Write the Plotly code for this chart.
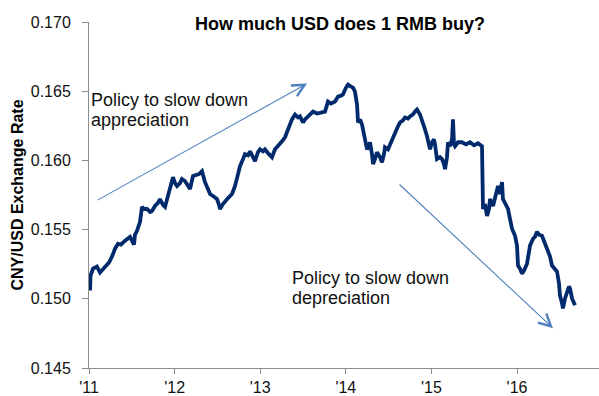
import plotly.graph_objects as go

# CNY/USD exchange rate (USD per 1 RMB), sampled along 2011 - Aug 2016, x in decimal years
years = [
    2011.012, 2011.018, 2011.047, 2011.093, 2011.129, 2011.152, 2011.187, 2011.210, 2011.234, 2011.269,
    2011.304, 2011.339, 2011.374, 2011.421, 2011.456, 2011.479, 2011.502, 2011.526, 2011.537, 2011.561,
    2011.596, 2011.619, 2011.643, 2011.678, 2011.713, 2011.736, 2011.771, 2011.806, 2011.829, 2011.864,
    2011.888, 2011.923, 2011.958, 2011.981, 2012.005, 2012.028, 2012.063, 2012.086, 2012.121, 2012.157,
    2012.180, 2012.215, 2012.250, 2012.285, 2012.320, 2012.355, 2012.390, 2012.414, 2012.449, 2012.495,
    2012.519, 2012.530, 2012.565, 2012.589, 2012.624, 2012.671, 2012.706, 2012.741, 2012.764, 2012.799,
    2012.822, 2012.857, 2012.881, 2012.916, 2012.939, 2012.974, 2012.998, 2013.033, 2013.056, 2013.091,
    2013.138, 2013.173, 2013.208, 2013.255, 2013.290, 2013.313, 2013.348, 2013.371, 2013.407, 2013.442,
    2013.465, 2013.500, 2013.523, 2013.547, 2013.582, 2013.617, 2013.664, 2013.699, 2013.734, 2013.757,
    2013.792, 2013.827, 2013.874, 2013.909, 2013.944, 2013.967, 2014.002, 2014.026, 2014.061, 2014.084,
    2014.107, 2014.131, 2014.143, 2014.166, 2014.189, 2014.213, 2014.224, 2014.248, 2014.271, 2014.283,
    2014.306, 2014.318, 2014.341, 2014.364, 2014.400, 2014.423, 2014.446, 2014.458, 2014.493, 2014.516,
    2014.551, 2014.575, 2014.610, 2014.633, 2014.668, 2014.692, 2014.727, 2014.750, 2014.785, 2014.808,
    2014.832, 2014.867, 2014.890, 2014.925, 2014.949, 2014.972, 2014.984, 2015.007, 2015.030, 2015.042,
    2015.065, 2015.100, 2015.124, 2015.147, 2015.159, 2015.182, 2015.194, 2015.217, 2015.241, 2015.252,
    2015.264, 2015.276, 2015.311, 2015.357, 2015.404, 2015.451, 2015.498, 2015.544, 2015.568, 2015.591,
    2015.603, 2015.626, 2015.650, 2015.673, 2015.685, 2015.708, 2015.720, 2015.755, 2015.778, 2015.801,
    2015.825, 2015.836, 2015.860, 2015.895, 2015.918, 2015.942, 2015.977, 2016.000, 2016.012, 2016.035,
    2016.058, 2016.082, 2016.117, 2016.152, 2016.187, 2016.210, 2016.234, 2016.257, 2016.292, 2016.327,
    2016.350, 2016.386, 2016.409, 2016.444, 2016.467, 2016.491, 2016.502, 2016.526, 2016.537, 2016.561,
    2016.584, 2016.607, 2016.619, 2016.643, 2016.678,
]
rate = [
    0.15060, 0.15168, 0.15218, 0.15233, 0.15190, 0.15204, 0.15233, 0.15240, 0.15262, 0.15305,
    0.15362, 0.15398, 0.15391, 0.15420, 0.15434, 0.15448, 0.15420, 0.15391, 0.15463, 0.15491,
    0.15556, 0.15664, 0.15649, 0.15649, 0.15628, 0.15635, 0.15671, 0.15693, 0.15721, 0.15678,
    0.15664, 0.15743, 0.15807, 0.15879, 0.15836, 0.15815, 0.15836, 0.15865, 0.15851, 0.15822,
    0.15793, 0.15887, 0.15894, 0.15901, 0.15922, 0.15843, 0.15793, 0.15757, 0.15743, 0.15721,
    0.15678, 0.15649, 0.15685, 0.15707, 0.15728, 0.15757, 0.15815, 0.15901, 0.15958, 0.16009,
    0.16045, 0.16037, 0.16066, 0.16023, 0.15994, 0.16059, 0.16080, 0.16066, 0.16080, 0.16052,
    0.16023, 0.16080, 0.16102, 0.16138, 0.16167, 0.16203, 0.16253, 0.16296, 0.16332, 0.16310,
    0.16318, 0.16274, 0.16296, 0.16310, 0.16332, 0.16353, 0.16339, 0.16346, 0.16346, 0.16353,
    0.16425, 0.16411, 0.16425, 0.16461, 0.16468, 0.16476, 0.16526, 0.16547, 0.16533, 0.16526,
    0.16497, 0.16404, 0.16274, 0.16296, 0.16260, 0.16188, 0.16138, 0.16080, 0.16109, 0.16131,
    0.16045, 0.15973, 0.16009, 0.16059, 0.16023, 0.15987, 0.16045, 0.16095, 0.16080, 0.16116,
    0.16167, 0.16210, 0.16246, 0.16274, 0.16289, 0.16310, 0.16303, 0.16318, 0.16332, 0.16353,
    0.16368, 0.16332, 0.16296, 0.16224, 0.16174, 0.16102, 0.16080, 0.16131, 0.16152, 0.16116,
    0.16009, 0.16023, 0.16009, 0.15973, 0.15937, 0.16023, 0.16131, 0.16102, 0.16152, 0.16296,
    0.16116, 0.16102, 0.16131, 0.16131, 0.16116, 0.16131, 0.16109, 0.16124, 0.16116, 0.16102,
    0.15649, 0.15685, 0.15599, 0.15649, 0.15721, 0.15685, 0.15671, 0.15757, 0.15815, 0.15757,
    0.15843, 0.15721, 0.15685, 0.15649, 0.15578, 0.15506, 0.15455, 0.15384, 0.15240, 0.15218,
    0.15182, 0.15204, 0.15254, 0.15384, 0.15434, 0.15448, 0.15484, 0.15463, 0.15455, 0.15398,
    0.15362, 0.15305, 0.15240, 0.15218, 0.15197, 0.15111, 0.15024, 0.14967, 0.14931, 0.15003,
    0.15053, 0.15089, 0.15075, 0.15003, 0.14953,
]

x_tick_vals = [2011, 2012, 2013, 2014, 2015, 2016]
x_tick_text = ["'11", "'12", "'13", "'14", "'15", "'16"]
y_tick_vals = [0.145, 0.150, 0.155, 0.160, 0.165, 0.170]

FONT = "Liberation Sans, Arial, sans-serif"
LINE_COLOR = "#002a6c"
ARROW_COLOR = "#4f81bd"
AXIS_COLOR = "#8c8c8c"

fig = go.Figure()
fig.add_trace(go.Scatter(
    x=years, y=rate, mode="lines",
    line=dict(color=LINE_COLOR, width=3.8),
    hoverinfo="skip", showlegend=False,
))

# trend arrows (tail -> head)
arrows = [
    dict(tail=(2011.082, 0.15707), head=(2013.547, 0.16555)),
    dict(tail=(2014.610, 0.15836), head=(2016.421, 0.14787)),
]
for a in arrows:
    fig.add_annotation(
        x=a["head"][0], y=a["head"][1], ax=a["tail"][0], ay=a["tail"][1],
        xref="x", yref="y", axref="x", ayref="y",
        text="", showarrow=True, arrowhead=5, arrowsize=2.2, arrowwidth=1.1,
        arrowcolor=ARROW_COLOR, standoff=0, startstandoff=0,
    )

# callout text, one annotation per line for tighter line spacing
notes = [
    dict(x=2011.000, y=0.16526, text="Policy to slow down"),
    dict(x=2011.000, y=0.16382, text="appreciation"),
    dict(x=2013.348, y=0.15240, text="Policy to slow down"),
    dict(x=2013.348, y=0.15096, text="depreciation"),
]
for n in notes:
    fig.add_annotation(
        x=n["x"], y=n["y"], xref="x", yref="y", text=n["text"],
        showarrow=False, xanchor="left", yanchor="top", align="left",
        font=dict(family=FONT, size=18, color="#111111"),
    )

fig.update_layout(
    width=599, height=396,
    margin=dict(l=89, r=0, t=22, b=26),
    paper_bgcolor="white", plot_bgcolor="white",
    title=dict(
        text="<b>How much USD does 1 RMB buy?</b>",
        x=340 / 599, xanchor="center",
        y=1 - 24 / 396, yanchor="middle",
        font=dict(family=FONT, size=18, color="#000000"),
    ),
    font=dict(family=FONT, size=16, color="#111111"),
)

fig.update_xaxes(
    range=[2011.0, 2016.958], tickvals=x_tick_vals, ticktext=x_tick_text,
    showgrid=False, zeroline=False, showline=True, linecolor=AXIS_COLOR, linewidth=1,
    ticks="outside", ticklen=5, tickcolor=AXIS_COLOR, tickwidth=1,
    tickfont=dict(family=FONT, size=16, color="#111111"),
)
fig.update_yaxes(
    range=[0.145, 0.170], tickvals=y_tick_vals, tickformat=".3f",
    showgrid=False, zeroline=False, showline=True, linecolor=AXIS_COLOR, linewidth=1,
    ticks="outside", ticklen=6, tickcolor=AXIS_COLOR, tickwidth=1,
    ticklabelstandoff=8,
    tickfont=dict(family=FONT, size=16, color="#111111"),
    title=dict(text="<b>CNY/USD Exchange Rate</b>", standoff=3,
               font=dict(family=FONT, size=16, color="#000000")),
)

fig.write_html("out.html")
